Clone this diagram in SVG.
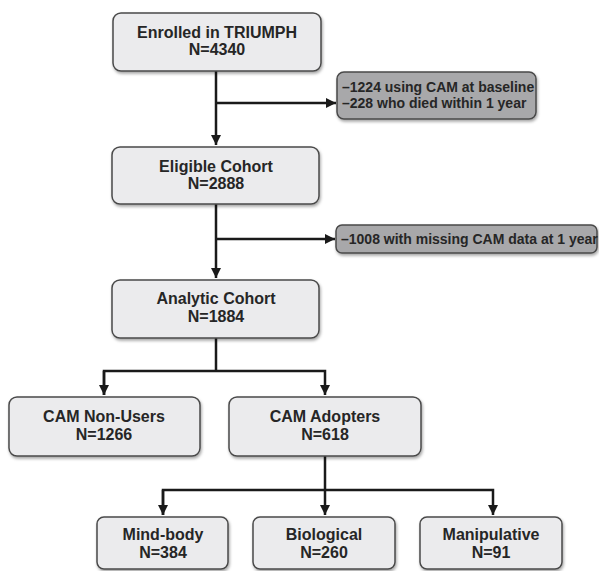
<svg xmlns="http://www.w3.org/2000/svg" width="599" height="571" viewBox="0 0 599 571">
<style>
.box{fill:#ebebed;stroke:#4a4a4a;stroke-width:1.5}
.ex{fill:#a8a8aa;stroke:#4a4a4a;stroke-width:1.5}
.t{font-family:"Liberation Sans",Arial,sans-serif;font-weight:bold;font-size:16px;fill:#262626;text-anchor:middle}
.e{font-family:"Liberation Sans",Arial,sans-serif;font-weight:bold;font-size:14px;fill:#262626}
.c{fill:none;stroke:#1a1a1a;stroke-width:2.5}
</style>
<defs>
<filter id="sh" x="-10%" y="-10%" width="120%" height="130%">
<feDropShadow dx="1" dy="2" stdDeviation="1.5" flood-color="#000" flood-opacity="0.35"/>
</filter>
<marker id="ah" viewBox="0 0 10 10" refX="10" refY="5" markerWidth="4" markerHeight="4" orient="auto" markerUnits="strokeWidth">
<path d="M0,0 L10,5 L0,10 z" fill="#1a1a1a"/>
</marker>
</defs>
<rect width="599" height="571" fill="#fff"/>
<g id="connectors">
<path class="c" d="M216,71 V145" marker-end="url(#ah)"/>
<path class="c" d="M216,103 H336" marker-end="url(#ah)"/>
<path class="c" d="M216,204 V278" marker-end="url(#ah)"/>
<path class="c" d="M216,239 H335" marker-end="url(#ah)"/>
<path class="c" d="M216,338 V371"/>
<path class="c" d="M104,395 V371 H325 V395" marker-end="url(#ah)"/>
<path class="c" d="M104,371 V395" marker-end="url(#ah)"/>
<path class="c" d="M325,456 V515" marker-end="url(#ah)"/>
<path class="c" d="M163,515 V490 H493 V515" marker-end="url(#ah)"/>
<path class="c" d="M163,490 V515" marker-end="url(#ah)"/>
</g>
<g id="enrolled">
<rect class="box" filter="url(#sh)" x="113" y="13" width="208" height="58" rx="8"/>
<text class="t" x="217" y="38">Enrolled in TRIUMPH</text>
<text class="t" x="217" y="55">N=4340</text>
</g>
<g id="excl1">
<rect class="ex" filter="url(#sh)" x="337" y="72" width="199" height="47" rx="7"/>
<text class="e" x="342" y="92">–1224 using CAM at baseline</text>
<text class="e" x="342" y="108">–228 who died within 1 year</text>
</g>
<g id="eligible">
<rect class="box" filter="url(#sh)" x="112" y="147" width="207" height="57" rx="8"/>
<text class="t" x="216" y="172">Eligible Cohort</text>
<text class="t" x="216" y="189">N=2888</text>
</g>
<g id="excl2">
<rect class="ex" filter="url(#sh)" x="336" y="225" width="261" height="28" rx="6"/>
<text class="e" x="341" y="244">–1008 with missing CAM data at 1 year</text>
</g>
<g id="analytic">
<rect class="box" filter="url(#sh)" x="112" y="280" width="207" height="58" rx="8"/>
<text class="t" x="216" y="304">Analytic Cohort</text>
<text class="t" x="216" y="322">N=1884</text>
</g>
<g id="nonusers">
<rect class="box" filter="url(#sh)" x="9" y="397" width="191" height="59" rx="8"/>
<text class="t" x="104" y="422">CAM Non-Users</text>
<text class="t" x="104" y="440">N=1266</text>
</g>
<g id="adopters">
<rect class="box" filter="url(#sh)" x="229" y="397" width="192" height="59" rx="8"/>
<text class="t" x="325" y="422">CAM Adopters</text>
<text class="t" x="325" y="440">N=618</text>
</g>
<g id="mindbody">
<rect class="box" filter="url(#sh)" x="97" y="517" width="131" height="52" rx="7"/>
<text class="t" x="163" y="540">Mind-body</text>
<text class="t" x="163" y="558">N=384</text>
</g>
<g id="biological">
<rect class="box" filter="url(#sh)" x="253" y="517" width="142" height="52" rx="7"/>
<text class="t" x="324" y="540">Biological</text>
<text class="t" x="324" y="558">N=260</text>
</g>
<g id="manipulative">
<rect class="box" filter="url(#sh)" x="420" y="517" width="142" height="52" rx="7"/>
<text class="t" x="491" y="540">Manipulative</text>
<text class="t" x="491" y="558">N=91</text>
</g>
</svg>
